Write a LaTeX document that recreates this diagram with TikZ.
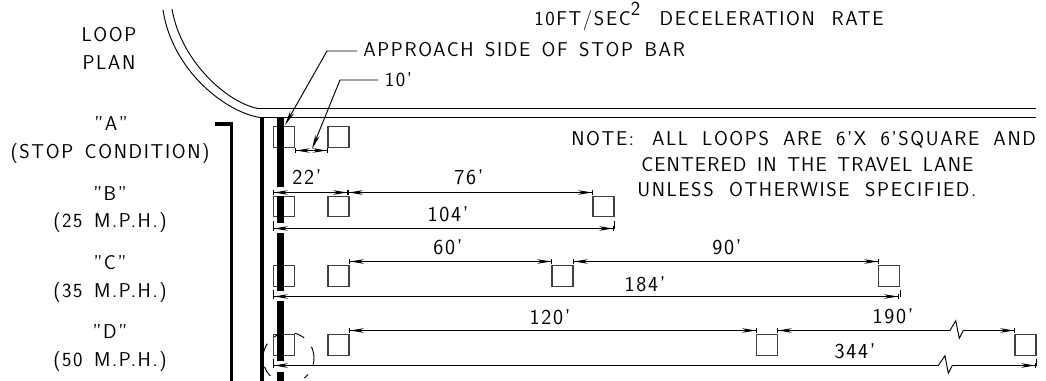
\documentclass[tikz,border=0pt]{standalone}
\usepackage{fontspec}
\setsansfont[LetterSpace=8,WordSpace=1.45]{Latin Modern Sans}
\usetikzlibrary{arrows.meta}
\tikzset{
  cadtext/.style={inner sep=0pt,font=\fontsize{15}{15}\selectfont\sffamily},
  label west/.style={cadtext,anchor=base west},
  label mid/.style={cadtext,anchor=base},
  dimtext/.style={inner sep=0pt,anchor=base,font=\fontsize{16}{16}\selectfont\sffamily},
  loopbox/.style={rectangle,draw=black!75,line width=0.8pt,minimum width=15.75pt,minimum height=15.25pt,inner sep=0pt},
  road/.style={line width=0.7pt},
  thickbar/.style={line width=2.8pt},
  stopbar/.style={line width=5.25pt},
  leader/.style={line width=0.7pt,-{Stealth[length=11pt,width=3.4pt]}},
  dimline/.style={line width=0.7pt,
    {Bar[width=3.6pt,sep=0pt]Stealth[length=10.5pt,width=3.4pt]}-{Stealth[length=10.5pt,width=3.4pt]Bar[width=3.6pt,sep=0pt]}},
  extline/.style={line width=0.7pt},
  detail/.style={line width=0.7pt}
}
\begin{document}
\begin{tikzpicture}[x=0.75pt,y=-0.75pt]
  \useasboundingbox (0,0) rectangle (1046,381);
  % road edge
  \draw[road] (163,10) .. controls (172,70) and (225,112) .. (260,117.5) -- (1036,117.5);
  \draw[road] (172,9) .. controls (181,62) and (228,103) .. (258,108.5) -- (1036,108.5);
  % bars
  \draw[thickbar] (215,124) -- (231.5,124) -- (231.5,381);
  \draw[thickbar] (262,117) -- (262,381);
  % loops
  \foreach \row/\ypos in {a/137,b/206.5,c/276,d/345} {
    \node (\row1) [loopbox] at (284,\ypos) {};
    \node (\row2) [loopbox] at (338.5,\ypos) {};
  }
  \node (b3) [loopbox] at (603.5,206.5) {};
  \node (c3) [loopbox] at (562.5,276) {};
  \node (c4) [loopbox] at (889,276) {};
  \node (d3) [loopbox] at (767,345) {};
  \node (d4) [loopbox] at (1025.5,345) {};
  % stop bar
  \foreach \ya/\yb in {117/187,196/223,233/291,301/361,372/381}
    \draw[stopbar] (280,\ya) -- (280,\yb);
  % dimensions
  \coordinate (m10a) at (a1.east |- 0,150.5);
  \coordinate (m10b) at (a2.west |- 0,150.5);
  \draw[dimline] (m10a) -- (m10b);
  \draw[dimline] (273,192.5) -- (348,192.5);
  \draw[dimline] (348,192.5) -- (593,192.5);
  \draw[dimline] (273,228.5) -- (614,228.5);
  \draw[dimline] (349,261.5) -- (552,261.5);
  \draw[dimline] (573,261.5) -- (879,261.5);
  \draw[dimline] (273,296.5) -- (899,296.5);
  \draw[dimline] (349,330.5) -- (757,330.5);
  \draw[dimline] (777,330.5) -- (950,330.5) -- (955.7,320.7) -- (959.3,338.3) -- (963.3,330.5) -- (1015,330.5);
  \draw[dimline] (273,365.5) -- (938.3,365.5) -- (945,355.7) -- (948.3,373.3) -- (952.3,365.5) -- (1036,365.5);
  % extension lines
  \foreach \boxname/\side/\ypos in {b1/west/228.5,b3/east/228.5,c1/west/296.5,c4/east/296.5,d1/west/365.5,d4/east/365.5}
    \draw[extline] ([yshift=-2.5pt]\boxname.south \side) -- (\boxname.south \side |- 0,\ypos);
  % detail circle
  \foreach \ang/\angb in {-26/15,40/52,135/160,183/214,236/252,284/308}
    \draw[detail] plot[domain=\ang:\angb,samples=8,smooth] ({288.5+25.5*cos(\x)},{358+25.5*sin(\x)});
  % left labels
  \node (loop) [label mid] at (109,42) {LOOP};
  \node (plan) [label mid] at (109,70) {PLAN};
  \node (lA) [label mid] at (111,131) {"A"};
  \node (lAa) [label mid] at (110,159) {(STOP CONDITION)};
  \node (lB) [label mid] at (110,200) {"B"};
  \node (lBa) [label mid] at (110,228) {(25 M.P.H.)};
  \node (lC) [label mid] at (110,269) {"C"};
  \node (lCa) [label mid] at (110,297) {(35 M.P.H.)};
  \node (lD) [label mid] at (110,338) {"D"};
  \node (lDa) [label mid] at (110,366) {(50 M.P.H.)};
  % top and note
  \node (rate) [label west] at (534,26) {10FT/SEC\raisebox{8pt}{2}\hspace{6pt} DECELERATION\hspace{4pt} RATE};
  \node (approach) [label west,inner xsep=4.5pt] at (357,57) {APPROACH SIDE OF STOP BAR};
  \node (ten) [label west,inner xsep=5pt] at (378,87) {10'};
  \node (note1) [label west] at (571,146) {NOTE:\hspace{5pt} ALL\hspace{2pt} LOOPS\hspace{2pt} ARE\hspace{2pt} 6'X\hspace{2pt} 6'SQUARE\hspace{2pt} AND};
  \node (note2) [label west] at (641,172) {\addfontfeature{LetterSpace=5.5}CENTERED IN THE TRAVEL LANE};
  \node (note3) [label west] at (637,197) {UNLESS\hspace{3pt} OTHERWISE\hspace{3pt} SPECIFIED.};
  % leaders
  \coordinate (tipA) at (285,125);
  \coordinate (tipB) at (312,149);
  \draw[leader] (357,51) -- (327,51) -- (tipA);
  \draw[leader] (378,80) -- (340,80) -- (tipB);
  % dimension texts
  \node (t22) [dimtext] at (307,185) {22'};
  \node (t76) [dimtext] at (469,185) {76'};
  \node (t104) [dimtext] at (448,222) {104'};
  \node (t60) [dimtext] at (448,254) {60'};
  \node (t90) [dimtext] at (727,254) {90'};
  \node (t184) [dimtext] at (645,291) {184'};
  \node (t120) [dimtext] at (550,324) {120'};
  \node (t190) [dimtext] at (893,323) {190'};
  \node (t344) [dimtext] at (855,358) {344'};
\end{tikzpicture}
\end{document}
